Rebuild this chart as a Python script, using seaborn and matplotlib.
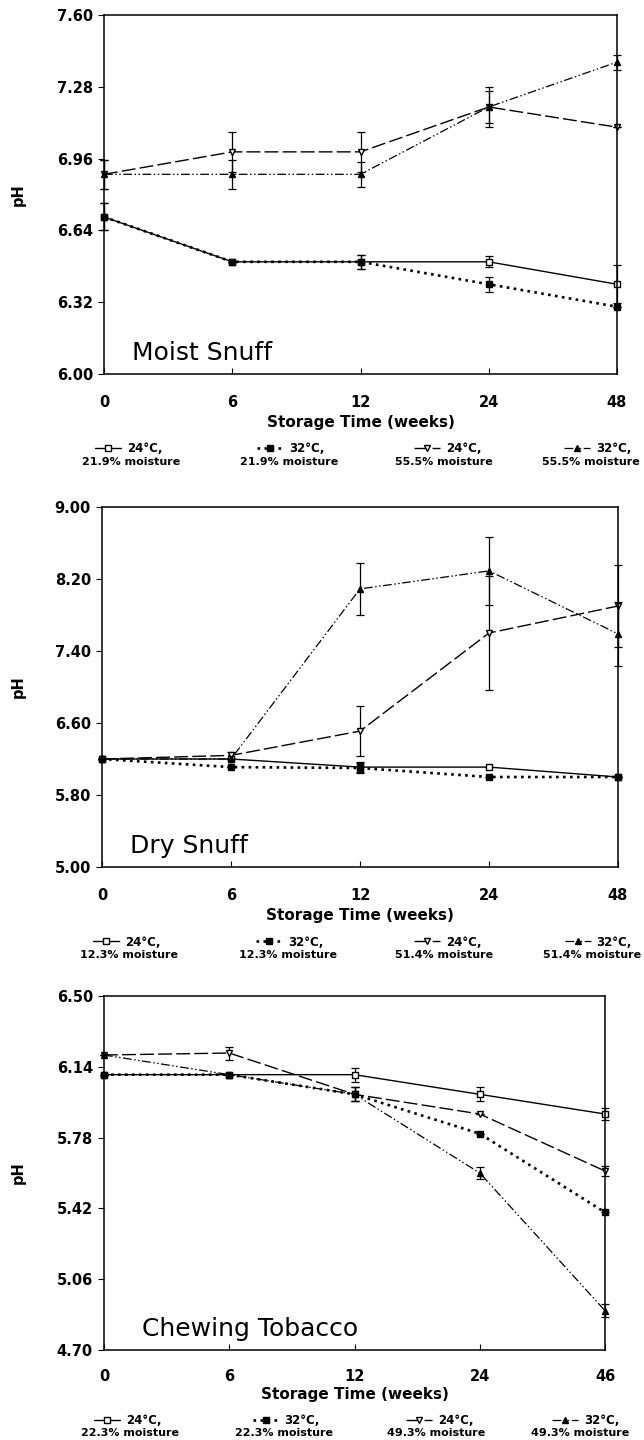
import numpy as np
import matplotlib
matplotlib.use("Agg")
import matplotlib.pyplot as plt
import seaborn as sns

sns.set_style("ticks", {"axes.edgecolor": "black", "text.color": "black",
                        "axes.labelcolor": "black", "xtick.color": "black",
                        "ytick.color": "black"})
plt.rcParams["font.family"] = ["DejaVu Sans"]
plt.rcParams["font.weight"] = "bold"
plt.rcParams["axes.labelweight"] = "bold"

# storage time categories (weeks)
moist_weeks = ["0", "6", "12", "24", "48"]
dry_weeks = ["0", "6", "12", "24", "48"]
chew_weeks = ["0", "6", "12", "24", "46"]

# y axis ticks
moist_yticks = [6.00, 6.32, 6.64, 6.96, 7.28, 7.60]
dry_yticks = [5.00, 5.80, 6.60, 7.40, 8.20, 9.00]
chew_yticks = [4.70, 5.06, 5.42, 5.78, 6.14, 6.50]

# legend text (series order: 24C low moisture, 32C low, 24C high, 32C high)
temps = ["24°C,", "32°C,", "24°C,", "32°C,"]
moist_levels = ["21.9% moisture", "21.9% moisture", "55.5% moisture", "55.5% moisture"]
dry_levels = ["12.3% moisture", "12.3% moisture", "51.4% moisture", "51.4% moisture"]
chew_levels = ["22.3% moisture", "22.3% moisture", "49.3% moisture", "49.3% moisture"]

# Moist snuff pH (mean, error)
moist_ph_24_low = [6.70, 6.50, 6.50, 6.50, 6.40]
moist_ph_32_low = [6.70, 6.50, 6.50, 6.40, 6.30]
moist_ph_24_high = [6.89, 6.99, 6.99, 7.19, 7.10]
moist_ph_32_high = [6.89, 6.89, 6.89, 7.19, 7.39]
moist_err_24_low = [0.06, 0.0, 0.03, 0.025, 0.085]
moist_err_32_low = [0.06, 0.0, 0.03, 0.033, 0.0]
moist_err_24_high = [0.065, 0.09, 0.09, 0.07, 0.0]
moist_err_32_high = [0.065, 0.065, 0.055, 0.09, 0.033]

# Dry snuff pH
dry_ph_24_low = [6.20, 6.20, 6.11, 6.11, 6.00]
dry_ph_32_low = [6.20, 6.11, 6.10, 6.00, 6.00]
dry_ph_24_high = [6.20, 6.24, 6.51, 7.60, 7.90]
dry_ph_32_high = [6.20, 6.20, 8.09, 8.29, 7.59]
dry_err_24_low = [0.0, 0.0, 0.06, 0.0, 0.0]
dry_err_32_low = [0.0, 0.0, 0.06, 0.0, 0.0]
dry_err_24_high = [0.0, 0.04, 0.28, 0.635, 0.46]
dry_err_32_high = [0.0, 0.0, 0.29, 0.375, 0.355]

# Chewing tobacco pH
chew_ph_24_low = [6.10, 6.10, 6.10, 6.00, 5.90]
chew_ph_32_low = [6.10, 6.10, 6.00, 5.80, 5.40]
chew_ph_24_high = [6.20, 6.21, 6.00, 5.90, 5.61]
chew_ph_32_high = [6.20, 6.10, 6.00, 5.60, 4.90]
chew_err_24_low = [0.0, 0.0, 0.035, 0.035, 0.033]
chew_err_32_low = [0.0, 0.0, 0.035, 0.0, 0.0]
chew_err_24_high = [0.0, 0.033, 0.035, 0.0, 0.025]
chew_err_32_high = [0.0, 0.0, 0.035, 0.03, 0.033]

# line / marker look for the four series
styles = [
    dict(marker="s", markerfacecolor="white", linestyle="-", linewidth=1.0),
    dict(marker="s", markerfacecolor="black", linestyle=":", linewidth=1.9),
    dict(marker="v", markerfacecolor="white", linestyle=(0, (10, 3)), linewidth=1.0),
    dict(marker="^", markerfacecolor="black", linestyle=(0, (7, 2, 1.2, 2, 1.2, 2)), linewidth=0.9),
]

W, H = 644, 1440
fig = plt.figure(figsize=(W / 100, H / 100), dpi=100)

leg_x1 = [0.048, 0.364, 0.670, 0.962]
leg_x2 = [0.052, 0.360, 0.663, 0.950]


def draw_panel(box, weeks, yticks, means, errs, levels, title, title_x,
               tick_pad=15, label_pad=4, leg_dy=(75, 88)):
    l, t, r, b = box
    ax = fig.add_axes([l / W, 1 - b / H, (r - l) / W, (b - t) / H])
    pos = np.arange(len(weeks))
    handles = []
    for k in range(4):
        eb = ax.errorbar(pos, means[k], yerr=errs[k], fmt="none", ecolor="black",
                         elinewidth=0.9, capsize=3, capthick=0.9)
        for art in list(eb[1]) + list(eb[2]):
            art.set_clip_on(False)
        sns.lineplot(x=pos, y=means[k], ax=ax, color="black", markersize=5,
                     markeredgecolor="black", markeredgewidth=1.0, clip_on=False,
                     **styles[k])
        handles.append(ax.lines[-1])

    ax.set_xlim(0, len(weeks) - 1)
    ax.set_xticks(pos, weeks)
    ax.set_ylim(yticks[0], yticks[-1])
    ax.set_yticks(yticks, [f"{v:.2f}" for v in yticks])
    ax.tick_params(axis="x", direction="in", length=4, pad=tick_pad, labelsize=10.5)
    ax.tick_params(axis="y", direction="out", length=4, pad=4, labelsize=10.5)
    for sp in ax.spines.values():
        sp.set_linewidth(1.1)

    ax.set_xlabel("Storage Time (weeks)", fontsize=11, labelpad=label_pad)
    ax.set_ylabel("pH", fontsize=10.5)
    ax.yaxis.set_label_coords(-(l - 26) / (r - l), 0.5)

    ax.text(title_x, 14 / (b - t), title, transform=ax.transAxes, fontsize=18,
            fontweight="normal", va="baseline", ha="left")

    for k in range(4):
        lx = (l + leg_x1[k] * (r - l)) / W
        fig.legend(handles=[handles[k]], labels=[temps[k]], loc="center",
                   bbox_to_anchor=(lx, 1 - (b + leg_dy[0]) / H), frameon=False,
                   handlelength=2.2, handletextpad=0.5, borderpad=0, borderaxespad=0,
                   prop={"size": 8.5, "weight": "bold"})
        fig.text((l + leg_x2[k] * (r - l)) / W, 1 - (b + leg_dy[1]) / H, levels[k],
                 ha="center", va="center", fontsize=8)
    return ax


draw_panel((104, 15, 617, 374), moist_weeks, moist_yticks,
           [moist_ph_24_low, moist_ph_32_low, moist_ph_24_high, moist_ph_32_high],
           [moist_err_24_low, moist_err_32_low, moist_err_24_high, moist_err_32_high],
           moist_levels, "Moist Snuff", 0.055)

draw_panel((102, 507, 618, 867), dry_weeks, dry_yticks,
           [dry_ph_24_low, dry_ph_32_low, dry_ph_24_high, dry_ph_32_high],
           [dry_err_24_low, dry_err_32_low, dry_err_24_high, dry_err_32_high],
           dry_levels, "Dry Snuff", 0.054)

draw_panel((104, 996, 605, 1350), chew_weeks, chew_yticks,
           [chew_ph_24_low, chew_ph_32_low, chew_ph_24_high, chew_ph_32_high],
           [chew_err_24_low, chew_err_32_low, chew_err_24_high, chew_err_32_high],
           chew_levels, "Chewing Tobacco", 0.076,
           tick_pad=14, label_pad=2, leg_dy=(71, 83))

fig.savefig("out.png", dpi=100)
